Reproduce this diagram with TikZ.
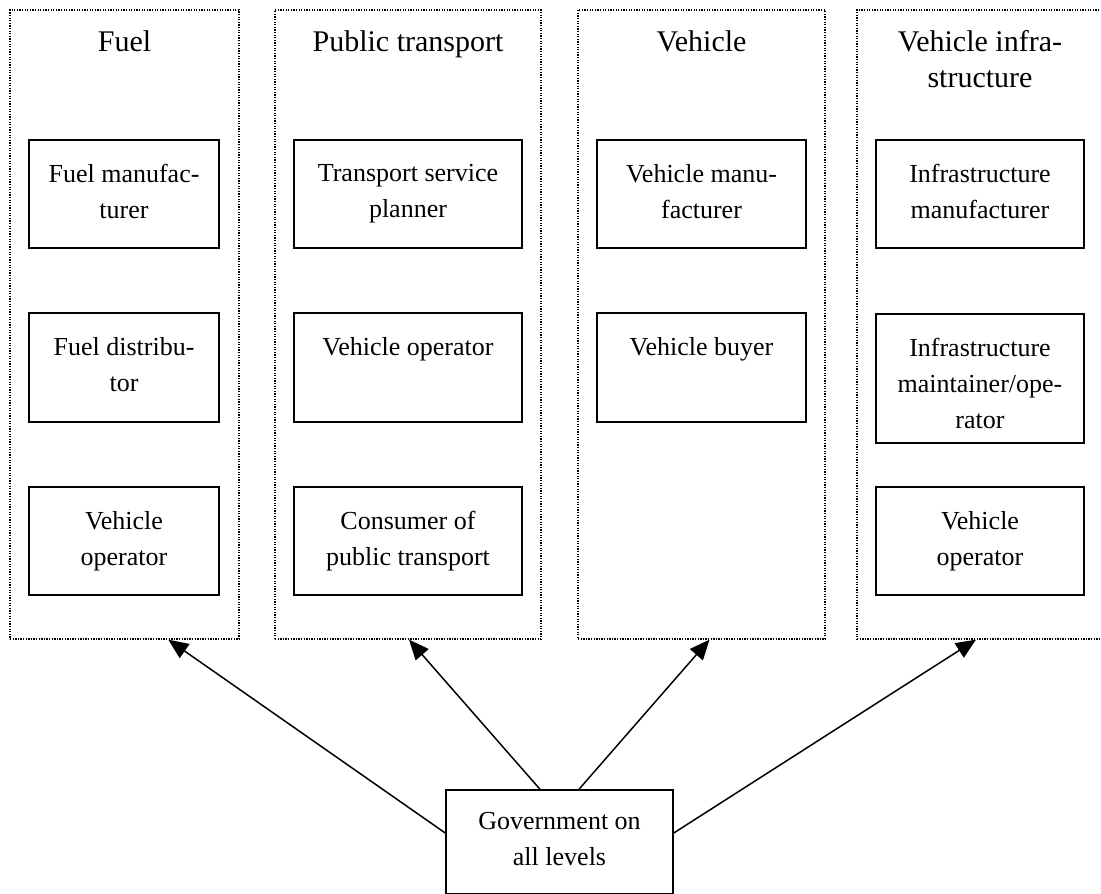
\documentclass[tikz,border=0pt]{standalone}
\usepackage{fontspec}
\setmainfont{Liberation Serif}
\usetikzlibrary{arrows.meta,calc}
\begin{document}
\begin{tikzpicture}[x=1pt,y=-1pt,
  colbox/.style={draw, line width=1.3pt, dash pattern=on 1.3pt off 1.3pt, minimum width=#1, minimum height=629pt, inner sep=0pt},
  rolebox/.style={draw, line width=1.8pt, minimum width=#1, inner sep=0pt},
  titletext/.style={anchor=north, inner sep=0pt, align=center, font=\fontsize{30}{36}\selectfont},
  lbl/.style={anchor=north, inner sep=0pt, align=center, font=\fontsize{26}{36}\selectfont},
  arr/.style={-{Triangle[length=20pt,width=17pt]}, line width=1.5pt}]
\useasboundingbox (0,0) rectangle (1101,894);
% columns
\node[colbox=229pt] (cfuel) at (124.5,324.5) {};
\node[colbox=266pt] (cpt) at (408,324.5) {};
\node[colbox=247pt] (cveh) at (701.5,324.5) {};
\node[colbox=246pt] (cinf) at (980,324.5) {};
% titles
\node[titletext] (tfuel) at ([yshift=-21pt]cfuel.north) {Fuel};
\node[titletext] (tpt) at ([yshift=-21pt]cpt.north) {Public transport};
\node[titletext] (tveh) at ([yshift=-21pt]cveh.north) {Vehicle};
\node[titletext] (tinf) at ([yshift=-21pt]cinf.north) {Vehicle infra-\\structure};
% Fuel boxes
\node[rolebox=190pt, minimum height=108pt] (f1) at (124,194) {};
\node[rolebox=190pt, minimum height=109pt] (f2) at (124,367.5) {};
\node[rolebox=190pt, minimum height=108pt] (f3) at (124,541) {};
\node[lbl] at ([yshift=-25pt]f1.north) {Fuel manufac-\\turer};
\node[lbl] at ([yshift=-25pt]f2.north) {Fuel distribu-\\tor};
\node[lbl] at ([yshift=-25pt]f3.north) {Vehicle\\operator};
% Public transport boxes
\node[rolebox=228pt, minimum height=108pt] (p1) at (408,194) {};
\node[rolebox=228pt, minimum height=109pt] (p2) at (408,367.5) {};
\node[rolebox=228pt, minimum height=108pt] (p3) at (408,541) {};
\node[lbl] at ([yshift=-25pt]p1.north) {Transport service\\planner};
\node[lbl] at ([yshift=-25pt]p2.north) {Vehicle operator};
\node[lbl] at ([yshift=-25pt]p3.north) {Consumer of\\public transport};
% Vehicle boxes
\node[rolebox=209pt, minimum height=108pt] (v1) at (701.5,194) {};
\node[rolebox=209pt, minimum height=109pt] (v2) at (701.5,367.5) {};
\node[lbl] at ([yshift=-25pt]v1.north) {Vehicle manu-\\facturer};
\node[lbl] at ([yshift=-25pt]v2.north) {Vehicle buyer};
% Infrastructure boxes
\node[rolebox=208pt, minimum height=108pt] (i1) at (980,194) {};
\node[rolebox=208pt, minimum height=129pt] (i2) at (980,378.5) {};
\node[rolebox=208pt, minimum height=108pt] (i3) at (980,541) {};
\node[lbl] at ([yshift=-25pt]i1.north) {Infrastructure\\manufacturer};
\node[lbl] at ([yshift=-25pt]i2.north) {Infrastructure\\maintainer/ope-\\rator};
\node[lbl] at ([yshift=-25pt]i3.north) {Vehicle\\operator};
% Government
\node[draw, line width=1.5pt, minimum width=227pt, minimum height=104pt, inner sep=0pt] (gov) at (559.5,842) {};
\node[lbl] at ([yshift=-23pt]gov.north) {Government on\\all levels};
% arrows
\draw[arr] ([yshift=9pt]gov.west) -- ($(cfuel.south west)!0.69!(cfuel.south east)$);
\draw[arr] ([xshift=-19.5pt]gov.north) -- ([xshift=1pt]cpt.south);
\draw[arr] ([xshift=19.5pt]gov.north) -- ([xshift=8pt]cveh.south);
\draw[arr] ([yshift=9pt]gov.east) -- ([xshift=-4pt]cinf.south);
\end{tikzpicture}
\end{document}
